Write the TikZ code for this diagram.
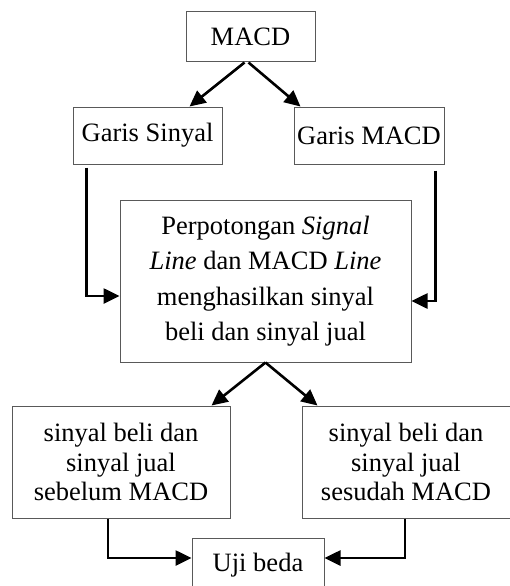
\documentclass[tikz,border=0pt]{standalone}
\usepackage{fontspec}
\setmainfont{Liberation Serif}
\usetikzlibrary{arrows.meta,calc}
\begin{document}
\begin{tikzpicture}[x=1pt,y=1pt,
  box/.style={draw=black!65, line width=1pt, rectangle, inner sep=0pt, align=center},
  arr/.style={line width=2.6pt, -{Triangle[length=16pt,width=15pt]}}]
\useasboundingbox (0,0) rectangle (509,-586);
\node[box, minimum width=129pt, minimum height=50pt, font=\fontsize{26.5}{36}\selectfont] (M) at (250.5,-37) {MACD};
\node[box, minimum width=149pt, minimum height=57pt, font=\fontsize{26.5}{36}\selectfont] (GS) at (147.5,-135.5) {Garis Sinyal};
\node[box, minimum width=150pt, minimum height=57pt, font=\fontsize{26.5}{36}\selectfont] (GM) at (369,-135.5) {Garis MACD};
\node[box, minimum width=291pt, minimum height=162pt, font=\fontsize{26.5}{35.5}\selectfont] (P) at (265.5,-281) {Perpotongan \textit{Signal}\\\textit{Line} dan MACD \textit{Line}\\menghasilkan sinyal\\beli dan sinyal jual};
\node[box, minimum width=218pt, minimum height=112pt, font=\fontsize{26.5}{29.5}\selectfont] (L) at (121,-462) {sinyal beli dan\\sinyal jual\\sebelum MACD};
\node[box, minimum width=208pt, minimum height=112pt, font=\fontsize{26.5}{29.5}\selectfont] (R) at (406,-462) {sinyal beli dan\\sinyal jual\\sesudah MACD};
\node[box, minimum width=132pt, minimum height=54pt, font=\fontsize{26.5}{36}\selectfont] (U) at (258,-565) {Uji beda};
\draw[arr] ([xshift=-6pt]M.south) -- ([xshift=-33pt]GS.north east);
\draw[arr] ([xshift=-2pt]M.south) -- ([xshift=7pt]GM.north west);
\draw[arr] ([xshift=14pt,yshift=-3pt]GS.south west) |- ([yshift=-15pt]P.west);
\draw[arr] ([xshift=-9pt,yshift=-6pt]GM.south east) |- ([yshift=-20pt]P.east);
\draw[arr] (P.south) -- ([xshift=-19pt]L.north east);
\draw[arr] (P.south) -- ([xshift=16pt]R.north west);
\draw[arr] ([xshift=-13pt]L.south) |- ([yshift=7pt]U.west);
\draw[arr] ([xshift=-1pt]R.south) |- ([yshift=7pt]U.east);
\end{tikzpicture}
\end{document}
